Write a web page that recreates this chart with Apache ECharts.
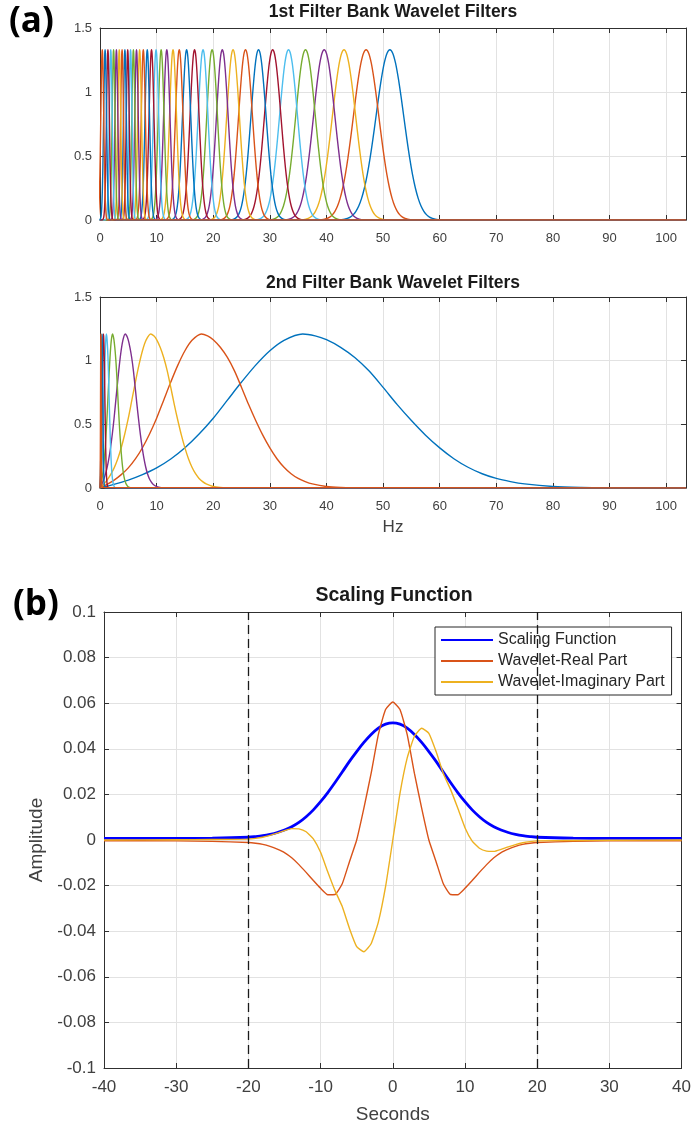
<!DOCTYPE html>
<html>
<head>
<meta charset="utf-8">
<script src="https://cdn.jsdelivr.net/npm/echarts@6/dist/echarts.min.js"></script>
<style>
  html, body { margin: 0; padding: 0; background: #fff; }
  #chart { width: 694px; height: 1127px; }
</style>
</head>
<body>
<div id="chart"></div>
<script>
// MATLAB default line colour order
const colorOrder = ['#0072BD', '#D95319', '#EDB120', '#7E2F8E', '#77AC30', '#4DBEEE', '#A2142F'];

// ---- 1st filter bank (8 wavelets per octave) ----
// centre frequencies in Hz, highest first
const bank1Centers = [51.2, 47.0, 43.1, 39.6, 36.3, 33.3, 30.5, 28.0, 25.7, 23.5, 21.6, 19.8,
  18.2, 16.7, 15.3, 14.0, 12.9, 11.8, 10.8, 9.9, 9.1, 8.35, 7.65, 7.0, 6.45, 5.9, 5.4,
  4.9, 4.4, 3.9, 3.4, 2.9, 2.4, 1.9, 1.4, 0.9, 0.4];
// one side of the 51.2 Hz filter: distance from centre (Hz) and magnitude
const bank1Offset = [0, 0.5, 1, 1.5, 2, 2.5, 3, 3.5, 4, 4.5, 5, 5.5, 6, 6.5, 7, 7.5, 8, 8.5, 9, 9.5];
const bank1Gain = [1.330, 1.303, 1.225, 1.104, 0.956, 0.793, 0.632, 0.483, 0.354, 0.250, 0.169,
  0.109, 0.068, 0.040, 0.023, 0.013, 0.007, 0.003, 0.001, 0];
const bank1RefCenter = 51.2;
const bank1MinBandCenter = 5.4;   // below this the filters keep a constant bandwidth

// ---- 2nd filter bank (1 wavelet per octave) ----
const bank2Centers = [35.8, 17.9, 8.95, 4.45, 2.2, 1.12, 0.6, 0.35, 0.15];
// response of the 35.8 Hz filter
const bank2Freq = [0, 2, 5, 7.5, 10, 12.5, 15, 17.5, 20, 22.5, 25, 27.5, 30, 32.5, 35.8, 38, 40, 42.5,
  45, 47.5, 50, 52.5, 55, 57.5, 60, 62.5, 65, 67.5, 70, 72.5, 75, 80, 85, 90, 95];
const bank2Gain = [0, 0.022, 0.062, 0.105, 0.158, 0.228, 0.316, 0.424, 0.548, 0.69, 0.832, 0.965,
  1.078, 1.16, 1.21, 1.195, 1.165, 1.105, 1.025, 0.92, 0.79, 0.655, 0.53, 0.415, 0.315, 0.23, 0.163,
  0.112, 0.075, 0.05, 0.032, 0.012, 0.004, 0.001, 0];
const bank2RefCenter = 35.8;

const freqMax = 103.5;
const freqTicks = { min: 0, max: freqMax, interval: 10 };
const gainTicks = { min: 0, max: 1.5, interval: 0.5 };

// ---- scaling function and wavelet (time domain) ----
const timeSec = [-40, -30, -25, -20, -19, -18, -17, -16, -15, -14, -13, -12, -11, -10, -9, -8, -7, -6,
  -5, -4, -3, -2, -1, 0, 1, 2, 3, 4, 5, 6, 7, 8, 9, 10, 11, 12, 13, 14, 15, 16, 17, 18, 19, 20, 25, 30, 40];
const scalingAmp = [0.0007, 0.0007, 0.0008, 0.0012, 0.0015, 0.0019, 0.0025, 0.0033, 0.0044, 0.0058,
  0.0077, 0.0102, 0.0132, 0.0168, 0.0208, 0.0252, 0.0298, 0.0345, 0.0388, 0.0428, 0.0463, 0.0491,
  0.0508, 0.0514, 0.0508, 0.0491, 0.0463, 0.0428, 0.0388, 0.0345, 0.0298, 0.0252, 0.0208, 0.0168,
  0.0132, 0.0102, 0.0077, 0.0058, 0.0044, 0.0033, 0.0025, 0.0019, 0.0015, 0.0012, 0.0008, 0.0007, 0.0007];
const realAmp = [-0.0003, -0.0004, -0.0006, -0.0011, -0.0014, -0.0019, -0.0028, -0.0040, -0.0055,
  -0.0078, -0.0108, -0.0142, -0.0178, -0.0212, -0.0240, -0.0239, -0.0192, -0.0095, 0.0000, 0.0140,
  0.0292, 0.0462, 0.0572, 0.0605, 0.0572, 0.0462, 0.0292, 0.0140, 0.0000, -0.0095, -0.0192, -0.0239,
  -0.0240, -0.0212, -0.0178, -0.0142, -0.0108, -0.0078, -0.0055, -0.0040, -0.0028, -0.0019, -0.0014,
  -0.0011, -0.0006, -0.0004, -0.0003];
const imagAmp = [0.0000, 0.0001, 0.0002, 0.0004, 0.0007, 0.0012, 0.0020, 0.0030, 0.0041, 0.0050,
  0.0049, 0.0036, 0.0005, -0.0054, -0.0140, -0.0222, -0.0292, -0.0388, -0.0468, -0.0490, -0.0455,
  -0.0360, -0.0205, 0.0000, 0.0205, 0.0360, 0.0455, 0.0490, 0.0468, 0.0388, 0.0292, 0.0222, 0.0140,
  0.0054, -0.0005, -0.0036, -0.0049, -0.0050, -0.0041, -0.0030, -0.0020, -0.0012, -0.0007, -0.0004,
  -0.0002, -0.0001, 0.0000];
const supportEdges = [-20, 20];
const timeTicks = { min: -40, max: 40, interval: 10 };
const ampTicks = { min: -0.1, max: 0.1, interval: 0.02 };

const legendNames = ['Scaling Function', 'Wavelet-Real Part', 'Wavelet-Imaginary Part'];

// ---------------------------------------------------------------
const font = "'Liberation Sans', Arial, Helvetica, sans-serif";
const axisColor = '#303030';
const labelColor = '#404040';
const gridColor = '#e2e2e2';

const grids = [
  { left: 100, right: 8, top: 28, height: 192 },
  { left: 100, right: 8, top: 297, height: 191 },
  { left: 104, right: 10, top: 612, height: 456 }
];

function mainAxis(gridIndex, position, ticks, fontSize, margin, extra) {
  return Object.assign({
    type: 'value', gridIndex, position,
    min: ticks.min, max: ticks.max, interval: ticks.interval,
    axisLine: { show: true, onZero: false, lineStyle: { color: axisColor, width: 1 } },
    axisTick: { show: true, inside: true, length: 5, lineStyle: { color: axisColor } },
    axisLabel: { show: true, color: labelColor, fontSize, fontFamily: font, margin },
    splitLine: { show: true, lineStyle: { color: gridColor, width: 1 } }
  }, extra || {});
}
function boxAxis(gridIndex, position, ticks) {
  return {
    type: 'value', gridIndex, position,
    min: ticks.min, max: ticks.max, interval: ticks.interval,
    axisLine: { show: true, onZero: false, lineStyle: { color: axisColor, width: 1 } },
    axisTick: { show: true, inside: true, length: 5, lineStyle: { color: axisColor } },
    axisLabel: { show: false },
    splitLine: { show: false }
  };
}

const xAxis = [
  mainAxis(0, 'bottom', freqTicks, 13, 12, {
    axisLabel: { color: labelColor, fontSize: 13, fontFamily: font, margin: 12, showMaxLabel: false }
  }),
  boxAxis(0, 'top', freqTicks),
  mainAxis(1, 'bottom', freqTicks, 13, 12, {
    axisLabel: { color: labelColor, fontSize: 13, fontFamily: font, margin: 12, showMaxLabel: false },
    name: 'Hz', nameLocation: 'middle', nameGap: 31,
    nameTextStyle: { color: labelColor, fontSize: 17, fontFamily: font }
  }),
  boxAxis(1, 'top', freqTicks),
  mainAxis(2, 'bottom', timeTicks, 17, 11, {
    name: 'Seconds', nameLocation: 'middle', nameGap: 37,
    nameTextStyle: { color: labelColor, fontSize: 19, fontFamily: font }
  }),
  boxAxis(2, 'top', timeTicks)
];
const yAxis = [
  mainAxis(0, 'left', gainTicks, 13, 8),
  boxAxis(0, 'right', gainTicks),
  mainAxis(1, 'left', gainTicks, 13, 8),
  boxAxis(1, 'right', gainTicks),
  mainAxis(2, 'left', ampTicks, 17, 8, {
    name: 'Amplitude', nameLocation: 'middle', nameGap: 56, nameRotate: 90,
    nameTextStyle: { color: labelColor, fontSize: 19, fontFamily: font }
  }),
  boxAxis(2, 'right', ampTicks)
];

const series = [];

// 1st filter bank: same shape, width grows with centre frequency
bank1Centers.forEach((fc, k) => {
  const scale = Math.max(fc, bank1MinBandCenter) / bank1RefCenter;
  const pts = [];
  for (let i = bank1Offset.length - 1; i >= 1; i--) pts.push([fc - bank1Offset[i] * scale, bank1Gain[i]]);
  pts.push([fc, bank1Gain[0]]);
  for (let i = 1; i < bank1Offset.length; i++) pts.push([fc + bank1Offset[i] * scale, bank1Gain[i]]);
  if (pts[0][0] > 0) pts.unshift([0, 0]);
  pts.push([freqMax, 0]);
  series.push({
    type: 'line', xAxisIndex: 0, yAxisIndex: 0, data: pts, symbol: 'none',
    smooth: 0.3, clip: true,
    lineStyle: { color: colorOrder[k % colorOrder.length], width: 1.4 }
  });
});

// 2nd filter bank: octave-spaced copies of one response
bank2Centers.forEach((fc, k) => {
  const pts = bank2Freq.map((f, i) => [f * fc / bank2RefCenter, bank2Gain[i]]);
  pts.push([freqMax, 0]);
  series.push({
    type: 'line', xAxisIndex: 2, yAxisIndex: 2, data: pts, symbol: 'none',
    smooth: 0.3, clip: true,
    lineStyle: { color: colorOrder[k % colorOrder.length], width: 1.4 }
  });
});

// scaling function and wavelet parts
const pair = arr => timeSec.map((t, i) => [t, arr[i]]);
series.push({
  name: legendNames[0], type: 'line', xAxisIndex: 4, yAxisIndex: 4, data: pair(scalingAmp),
  symbol: 'none', smooth: 0.3, lineStyle: { color: '#0000FF', width: 2.8 }, itemStyle: { color: '#0000FF' },
  markLine: {
    silent: true, symbol: ['none', 'none'], label: { show: false }, animation: false,
    lineStyle: { color: '#1a1a1a', width: 1.3, type: [9, 5] },
    data: supportEdges.map(x => ({ xAxis: x }))
  }
});
series.push({
  name: legendNames[1], type: 'line', xAxisIndex: 4, yAxisIndex: 4, data: pair(realAmp),
  symbol: 'none', smooth: 0.15, lineStyle: { color: '#D95319', width: 1.4 }, itemStyle: { color: '#D95319' }
});
series.push({
  name: legendNames[2], type: 'line', xAxisIndex: 4, yAxisIndex: 4, data: pair(imagAmp),
  symbol: 'none', smooth: 0.15, lineStyle: { color: '#EDB120', width: 1.4 }, itemStyle: { color: '#EDB120' }
});

const titleText = (text, x, y, size) => ({
  type: 'text', x, y, silent: true,
  style: { text, fill: '#1a1a1a', font: 'bold ' + size + 'px ' + font, align: 'center', verticalAlign: 'middle' }
});

const chart = echarts.init(document.getElementById('chart'), null, { renderer: 'canvas' });
chart.setOption({
  animation: false,
  backgroundColor: '#ffffff',
  grid: grids,
  xAxis, yAxis, series,
  legend: {
    data: legendNames, orient: 'vertical', left: 435, top: 627,
    backgroundColor: '#ffffff', borderColor: '#262626', borderWidth: 1,
    padding: [5, 7, 5, 5], itemGap: 5, itemWidth: 52, itemHeight: 18,
    itemStyle: { opacity: 0 },
    textStyle: { color: '#262626', fontSize: 16, fontFamily: font },
    selectedMode: false
  },
  graphic: [
    titleText('1st Filter Bank Wavelet Filters', 393, 12, 17.5),
    titleText('2nd Filter Bank Wavelet Filters', 393, 283, 17.5),
    titleText('Scaling Function', 394, 596, 19.5),
    { type: 'text', x: 9, y: 5, silent: true,
      style: { text: '(a)', fill: '#000', font: 'bold 35px "Open Sans", Lato, sans-serif' } },
    { type: 'text', x: 13, y: 588, silent: true,
      style: { text: '(b)', fill: '#000', font: 'bold 35px "Open Sans", Lato, sans-serif' } }
  ]
});
</script>
</body>
</html>
